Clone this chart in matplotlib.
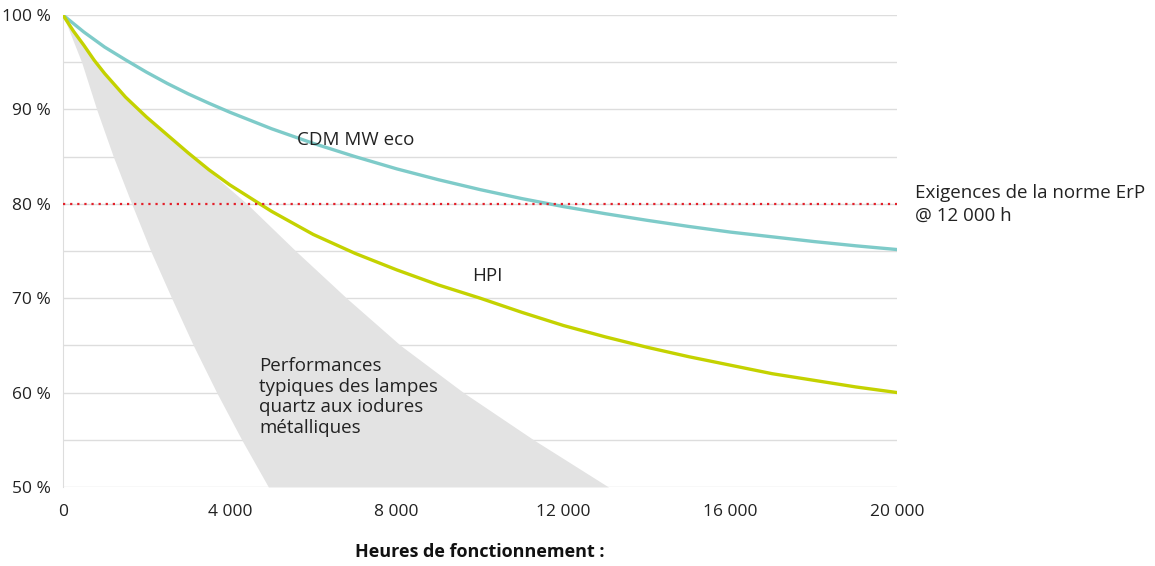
import numpy as np
import matplotlib
matplotlib.use("Agg")
import matplotlib.pyplot as plt
from matplotlib.ticker import MultipleLocator, FuncFormatter

plt.rcParams['font.family'] = ['Open Sans', 'DejaVu Sans']

# curves (hours -> % of initial lumen)
cdm_h = [0, 500, 1000, 1500, 2000, 2500, 3000, 3500, 4000, 5000, 6000, 7000, 8000, 9000, 10000,
         11000, 12000, 13000, 14000, 15000, 16000, 17000, 18000, 19000, 20000]
cdm_pct = [100, 98.2, 96.6, 95.25, 93.95, 92.75, 91.65, 90.65, 89.7, 87.95, 86.4, 85.0, 83.7,
           82.55, 81.5, 80.55, 79.7, 78.95, 78.25, 77.6, 77.0, 76.5, 76.0, 75.55, 75.15]

hpi_h = [0, 250, 500, 750, 1000, 1500, 2000, 2500, 3000, 3500, 4000, 5000, 6000, 7000, 8000,
         9000, 10000, 11000, 12000, 13000, 14000, 15000, 16000, 17000, 18000, 19000, 20000]
hpi_pct = [100, 98.3, 96.8, 95.2, 93.8, 91.3, 89.2, 87.3, 85.4, 83.6, 82.0, 79.2, 76.75, 74.75,
           73.0, 71.4, 70.0, 68.5, 67.1, 65.9, 64.8, 63.8, 62.9, 62.0, 61.3, 60.6, 60.0]

# grey band: typical quartz metal halide lamps
band_pct = [100, 95, 90, 85, 80, 75, 70, 65, 60, 55, 50]
band_left_h = [0, 448, 808, 1207, 1647, 2103, 2606, 3125, 3685, 4285, 4924]
band_right_h = [0, 780, 1800, 3100, 4410, 5580, 6800, 8090, 9600, 11280, 13075]

erp_level = 80

x_ticks = [0, 4000, 8000, 12000, 16000, 20000]

fig = plt.figure(figsize=(11.55, 5.66), dpi=100)
ax = fig.add_axes([0.0545, 0.1396, 0.7225, 0.8339])

ax.fill_betweenx(band_pct, band_left_h, band_right_h, color='#e3e3e3', lw=0, zorder=1)

ax.plot(cdm_h, cdm_pct, color='#7ecbc9', lw=2.4, solid_capstyle='round',
        solid_joinstyle='round', zorder=3)
ax.plot(hpi_h, hpi_pct, color='#c4d200', lw=2.4, solid_capstyle='round',
        solid_joinstyle='round', zorder=3)
ax.axhline(erp_level, color='#e3202a', lw=1.6, ls=(0, (1, 2.2)), zorder=4)

ax.set_xlim(0, 20000)
ax.set_ylim(50, 100)
ax.yaxis.set_major_locator(MultipleLocator(10))
ax.yaxis.set_minor_locator(MultipleLocator(5))
ax.yaxis.set_major_formatter(FuncFormatter(lambda v, p: "%d %%" % v))
ax.set_xticks(x_ticks)
ax.set_xticklabels([f"{t:,}".replace(",", " ") for t in x_ticks])
ax.grid(axis='y', which='both', color='#dddddd', lw=1, zorder=0)
ax.set_axisbelow(True)

for s in ['top', 'right', 'bottom']:
    ax.spines[s].set_visible(False)
ax.spines['left'].set_color('#dddddd')
ax.tick_params(axis='both', which='both', length=0, labelsize=12.5, colors='#222222')
ax.tick_params(axis='y', pad=9)
ax.tick_params(axis='x', pad=12)

ax.text(5610, 86.8, "CDM MW eco", fontsize=13.5, va='center', color='#222222')
ax.text(9810, 72.4, "HPI", fontsize=13.5, va='center', color='#222222')
ax.text(4700, 63.8, "Performances\ntypiques des lampes\nquartz aux iodures\nmétalliques",
        fontsize=13.5, va='top', color='#222222', linespacing=1.2)
ax.text(20430, 79.9, "Exigences de la norme ErP\n@ 12 000 h", fontsize=13.5,
        va='center', color='#222222', linespacing=1.35, clip_on=False)

ax.set_xlabel("Heures de fonctionnement :", fontsize=13, fontweight='bold',
              color='#111111', labelpad=17)

fig.savefig("out.png", dpi=100)
